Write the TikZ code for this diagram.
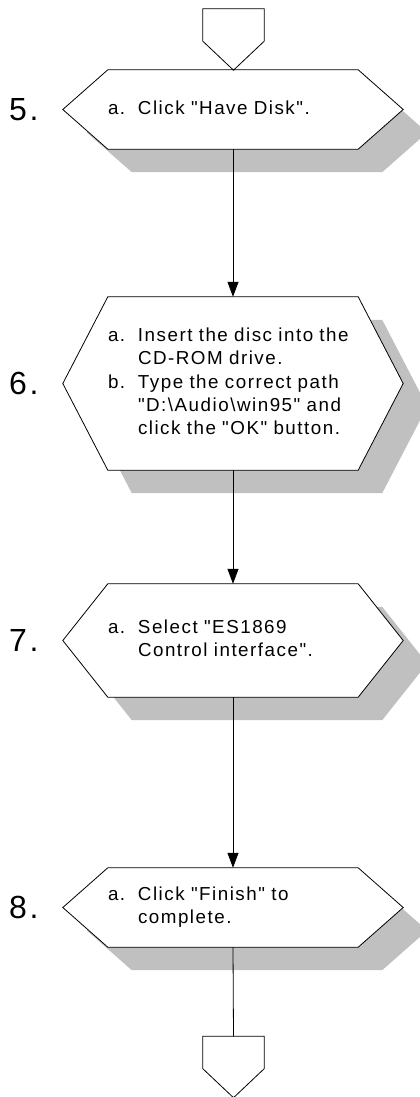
\documentclass[tikz,border=0pt]{standalone}
\usepackage{fontspec}
\setmainfont{Liberation Sans}
\newfontfamily\stepfont[LetterSpace=8]{Liberation Sans}
\usepackage{tikz}
\usetikzlibrary{arrows.meta,backgrounds}
\definecolor{shadowgray}{RGB}{192,192,192}

\tikzset{
  hexnode/.style={minimum width=250pt, inner sep=0pt, text width=250pt, align=left,
    font=\fontsize{18.8}{23.3}\stepfont},
  stepnum/.style={anchor=west, inner sep=0pt, font=\fontsize{32}{32}\stepfont},
  pagenode/.style={minimum width=61pt, minimum height=32pt, inner sep=0pt},
  flow/.style={-{Triangle[width=11pt,length=15pt]}, line width=0.8pt},
}
\newcommand{\stepitems}[1]{\begin{tabular}{@{}p{30pt}@{}l@{}}#1\end{tabular}}

\begin{document}
\begin{tikzpicture}[x=1pt, y=1pt]
\useasboundingbox (0,0) rectangle (420,-1097);
% ---- off-page connectors
\node[pagenode] (pagetop) at (233.5,-25) {};
\node[pagenode] (pagebottom) at (233.5,-1052.5) {};
\draw[line width=0.8pt] (pagetop.north west) -- (pagetop.north east) -- (pagetop.south east)
  -- ([yshift=-29pt]pagetop.south) -- (pagetop.south west) -- cycle;
\draw[line width=0.8pt] (pagebottom.north west) -- (pagebottom.north east) -- (pagebottom.south east)
  -- ([yshift=-29pt]pagebottom.south) -- (pagebottom.south west) -- cycle;
% ---- steps
\node[hexnode, minimum height=79pt] (hexfive) at (233,-109.5)
  {\stepitems{a. & Click "Have Disk".}};
\node[hexnode, minimum height=173pt] (hexsix) at (233,-383.5)
  {\stepitems{a. & Insert the disc into the\\ & CD-ROM drive.\\
    b. & Type the correct path\\ & "D:\textbackslash Audio\textbackslash win95" and\\
    & click the "OK" button.}};
\node[hexnode, minimum height=113pt] (hexseven) at (233,-640.5)
  {\stepitems{a. & Select "ES1869\\ & Control interface".}};
\node[hexnode, minimum height=79pt] (hexeight) at (233,-907.5)
  {\stepitems{a. & Click "Finish" to\\ & complete.}};
\node[stepnum] (numfive) at (9,0 |- hexfive) {5.};
\node[stepnum] (numsix) at (9,0 |- hexsix) {6.};
\node[stepnum] (numseven) at (9,0 |- hexseven) {7.};
\node[stepnum] (numeight) at (9,0 |- hexeight) {8.};
% ---- hexagons with shadow
\begin{pgfonlayer}{background}
\foreach \n in {hexfive,hexsix,hexseven,hexeight}{
  \fill[shadowgray, transform canvas={shift={(24pt,-23pt)}}] (\n.north west) -- (\n.north east)
    -- ([xshift=45pt]\n.east) -- (\n.south east) -- (\n.south west) -- ([xshift=-45pt]\n.west) -- cycle;
  \filldraw[fill=white, line width=0.8pt] (\n.north west) -- (\n.north east)
    -- ([xshift=45pt]\n.east) -- (\n.south east) -- (\n.south west) -- ([xshift=-45pt]\n.west) -- cycle;
}
\end{pgfonlayer}
% ---- connectors
\draw[flow] (hexfive.south) -- (hexsix.north);
\draw[flow] (hexsix.south) -- (hexseven.north);
\draw[flow] (hexseven.south) -- (hexeight.north);
\draw[line width=0.8pt] (hexeight.south) -- (pagebottom.north);
\end{tikzpicture}
\end{document}
